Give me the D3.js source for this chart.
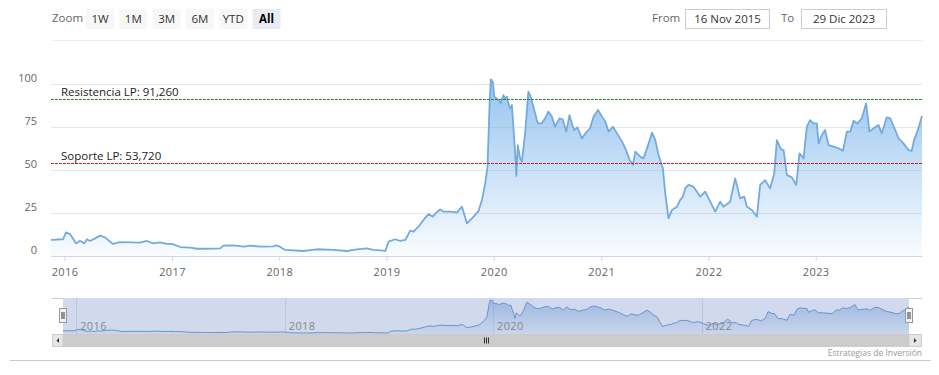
<!DOCTYPE html>
<html>
<head>
<meta charset="utf-8">
<script src="https://cdn.jsdelivr.net/npm/d3@7"></script>
<style>
  body { margin: 0; background: #fff; }
  svg { display: block; font-family: "Open Sans", sans-serif; }
</style>
</head>
<body>
<div id="chart"></div>
<script>
// data
var dates = [
  "2015-11-16","2015-12-27","2016-01-06","2016-01-20","2016-02-09","2016-02-23","2016-03-09","2016-03-17",
  "2016-03-28","2016-04-14","2016-05-01","2016-05-18","2016-06-04","2016-06-14","2016-07-08","2016-09-14",
  "2016-10-07","2016-10-29","2016-11-21","2016-12-14","2017-01-01","2017-01-29","2017-03-04","2017-03-27",
  "2017-04-30","2017-06-14","2017-06-25","2017-07-29","2017-09-01","2017-09-25","2017-10-29","2017-12-12",
  "2017-12-22","2018-01-03","2018-01-21","2018-03-23","2018-05-09","2018-07-04","2018-08-19","2018-09-22",
  "2018-10-27","2018-11-17","2018-12-22","2018-12-28","2019-01-08","2019-01-31","2019-02-17","2019-03-06",
  "2019-03-23","2019-04-03","2019-04-20","2019-05-07","2019-05-24","2019-06-08","2019-06-19","2019-07-03",
  "2019-07-14","2019-08-06","2019-08-29","2019-09-15","2019-10-02","2019-10-19","2019-11-10","2019-11-22",
  "2019-12-03","2019-12-11","2019-12-18","2019-12-22","2019-12-29","2020-01-03","2020-01-17","2020-01-25",
  "2020-02-03","2020-02-09","2020-02-15","2020-02-20","2020-02-26","2020-03-03","2020-03-08","2020-03-14",
  "2020-03-18","2020-03-23","2020-03-31","2020-04-06","2020-04-17","2020-04-28","2020-05-04","2020-05-15",
  "2020-05-27","2020-06-01","2020-06-13","2020-06-24","2020-07-05","2020-07-17","2020-07-28","2020-08-12",
  "2020-08-23","2020-09-04","2020-09-15","2020-09-23","2020-10-01","2020-10-12","2020-10-27","2020-11-13",
  "2020-11-24","2020-12-06","2020-12-21","2021-01-04","2021-01-15","2021-01-26","2021-02-10","2021-02-24",
  "2021-03-13","2021-03-24","2021-04-08","2021-04-19","2021-04-27","2021-05-14","2021-05-25","2021-06-06",
  "2021-06-23","2021-07-04","2021-07-15","2021-07-30","2021-08-07","2021-08-18","2021-08-30","2021-09-16",
  "2021-09-27","2021-10-06","2021-10-14","2021-10-25","2021-11-11","2021-11-23","2021-12-04","2021-12-21",
  "2022-01-07","2022-01-24","2022-02-10","2022-02-21","2022-03-16","2022-04-02","2022-04-19","2022-05-03",
  "2022-05-12","2022-05-29","2022-06-15","2022-06-26","2022-07-13","2022-07-30","2022-08-13","2022-08-22",
  "2022-09-05","2022-09-14","2022-09-25","2022-10-12","2022-10-27","2022-11-07","2022-11-21","2022-12-02",
  "2022-12-13","2022-12-25","2023-01-05","2023-01-11","2023-01-22","2023-02-02","2023-02-14","2023-03-03",
  "2023-03-20","2023-04-04","2023-04-17","2023-04-29","2023-05-10","2023-05-23","2023-06-07","2023-06-22",
  "2023-07-03","2023-07-17","2023-08-03","2023-08-14","2023-08-31","2023-09-12","2023-09-29","2023-10-10",
  "2023-10-27","2023-11-13","2023-11-24","2023-12-02","2023-12-17","2023-12-29"
];
var values = [
  9.3, 9.7, 13.7, 12.7, 7.3, 8.9, 7.3, 9.7,
  8.7, 10.2, 11.8, 10.8, 8.3, 7.0, 8.1, 7.7,
  8.7, 7.3, 7.9, 7.0, 7.0, 5.2, 4.8, 4.2,
  4.2, 4.4, 6.0, 6.2, 5.4, 6.0, 5.4, 5.6,
  6.2, 5.4, 3.5, 2.9, 3.9, 3.5, 2.9, 3.9,
  4.4, 3.5, 3.1, 2.9, 8.3, 9.7, 8.7, 9.3,
  14.7, 14.1, 17.0, 20.9, 24.3, 22.8, 25.1, 27.0,
  25.7, 25.7, 25.3, 28.6, 18.9, 21.8, 26.0, 32.5,
  42.0, 51.8, 88.5, 102.4, 101.0, 92.4, 90.4, 88.5,
  93.3, 91.4, 92.4, 88.5, 85.6, 87.5, 75.0, 59.5,
  46.4, 64.3, 56.6, 54.7, 71.1, 95.3, 93.3, 86.6,
  78.8, 76.9, 76.9, 79.8, 83.7, 80.8, 75.0, 79.8,
  79.2, 72.1, 81.7, 76.9, 73.0, 74.6, 68.2, 72.1,
  74.0, 80.8, 84.6, 80.8, 77.9, 72.1, 75.0, 71.1,
  66.3, 62.4, 55.7, 52.8, 60.5, 57.6, 56.6, 62.4,
  71.5, 67.2, 58.6, 50.8, 36.3, 21.8, 26.7, 28.6,
  32.5, 34.4, 39.2, 41.2, 40.2, 37.3, 34.4, 37.3,
  31.5, 25.7, 31.5, 28.6, 31.5, 45.0, 33.4, 34.4,
  28.6, 26.7, 22.8, 41.2, 44.0, 39.2, 47.9, 67.2,
  61.8, 61.4, 47.0, 45.6, 41.2, 59.5, 56.6, 75.0,
  78.8, 76.9, 76.9, 65.3, 70.1, 73.0, 64.3, 63.4,
  62.4, 61.0, 72.1, 72.1, 78.4, 76.9, 79.8, 88.5,
  72.1, 74.0, 75.9, 71.1, 80.4, 79.8, 73.0, 68.2,
  65.3, 61.4, 61.0, 67.2, 74.0, 81.2
];
var yTicks = [0, 25, 50, 75, 100];
var xTickYears = [2016, 2017, 2018, 2019, 2020, 2021, 2022, 2023];
var navTickYears = [2016, 2018, 2020, 2022];
var zoomButtons = ["1W", "1M", "3M", "6M", "YTD", "All"];
var plotLines = [
  {value: 91.26, label: "Resistencia LP: 91,260", color: "#2b8a2b"},
  {value: 53.72, label: "Soporte LP: 53,720", color: "#cc1f2d"}
];
var fromLabel = "16 Nov 2015", toLabel = "29 Dic 2023";
var credit = "Estrategias de Inversión";

var parse = d3.timeParse("%Y-%m-%d");
var data = dates.map(function(d, i) { return {date: parse(d), value: values[i]}; });

var W = 939, H = 375;
var svg = d3.select("#chart").append("svg").attr("width", W).attr("height", H);
var defs = svg.append("defs");

var x = d3.scaleTime().domain([parse("2015-11-16"), parse("2023-12-29")]).range([51, 922]);
var y = d3.scaleLinear().domain([0, 100]).range([256, 83.5]);

// ---- range selector ----
svg.append("text").attr("x", 52).attr("y", 22).attr("font-size", 11.5).attr("fill", "#666").text("Zoom");
zoomButtons.forEach(function(b, i) {
  var bx = 86 + i * 33.3;
  var sel = b === "All";
  svg.append("rect").attr("x", bx).attr("y", 9).attr("width", 28).attr("height", 20)
     .attr("fill", sel ? "#e6ebf5" : "#f7f7f7");
  svg.append("text").attr("x", bx + 14).attr("y", 22.5).attr("text-anchor", "middle")
     .attr("font-size", 11.5).attr("fill", sel ? "#000" : "#333")
     .attr("font-weight", sel ? "bold" : "normal").text(b);
});

svg.append("text").attr("x", 652).attr("y", 22).attr("font-size", 11.5).attr("fill", "#666").text("From");
svg.append("rect").attr("x", 685.5).attr("y", 9.5).attr("width", 84).attr("height", 19)
   .attr("fill", "#fff").attr("stroke", "#ccc");
svg.append("text").attr("x", 727.5).attr("y", 22.5).attr("text-anchor", "middle").attr("font-size", 11.5)
   .attr("fill", "#333").text(fromLabel);
svg.append("text").attr("x", 781).attr("y", 22).attr("font-size", 11.5).attr("fill", "#666").text("To");
svg.append("rect").attr("x", 801.5).attr("y", 9.5).attr("width", 85).attr("height", 19)
   .attr("fill", "#fff").attr("stroke", "#ccc");
svg.append("text").attr("x", 844).attr("y", 22.5).attr("text-anchor", "middle").attr("font-size", 11.5)
   .attr("fill", "#333").text(toLabel);

svg.append("line").attr("x1", 52).attr("x2", 923).attr("y1", 40.5).attr("y2", 40.5)
   .attr("stroke", "#eeeeee");

// ---- grid + y labels ----
svg.append("g").selectAll("line").data(yTicks).enter().append("line")
   .attr("x1", 51).attr("x2", 922)
   .attr("y1", function(d) { return Math.round(y(d)) + 0.5; })
   .attr("y2", function(d) { return Math.round(y(d)) + 0.5; })
   .attr("stroke", "#e6e6e6");

svg.append("g").selectAll("text").data(yTicks).enter().append("text")
   .attr("x", 37).attr("y", function(d) { return y(d) - 2; })
   .attr("text-anchor", "end").attr("font-size", 11).attr("fill", "#666")
   .text(function(d) { return d; });

// ---- area series ----
var grad = defs.append("linearGradient").attr("id", "areaGrad")
   .attr("gradientUnits", "userSpaceOnUse").attr("x1", 0).attr("x2", 0)
   .attr("y1", y(d3.max(values))).attr("y2", y(0));
grad.append("stop").attr("offset", 0).attr("stop-color", "#7cb5ec").attr("stop-opacity", 0.8);
grad.append("stop").attr("offset", 1).attr("stop-color", "#7cb5ec").attr("stop-opacity", 0.04);

var area = d3.area().x(function(d) { return x(d.date); })
   .y0(y(0)).y1(function(d) { return y(d.value); });
var line = d3.line().x(function(d) { return x(d.date); })
   .y(function(d) { return y(d.value); });

svg.append("path").datum(data).attr("d", area).attr("fill", "url(#areaGrad)");
svg.append("path").datum(data).attr("d", line).attr("fill", "none")
   .attr("stroke", "#74abdf").attr("stroke-width", 1.8).attr("stroke-linejoin", "round");

// ---- plot lines ----
plotLines.forEach(function(p) {
  var py = Math.round(y(p.value)) + 0.5;
  svg.append("line").attr("x1", 51).attr("x2", 922).attr("y1", py).attr("y2", py)
     .attr("stroke", p.color).attr("stroke-width", 1).attr("stroke-dasharray", "3,1");
  svg.append("text").attr("x", 61).attr("y", py - 3.5).attr("font-size", 11.5)
     .attr("fill", "#222").text(p.label);
});

// ---- x axis ----
var xAxis = svg.append("g").attr("transform", "translate(0,256)")
   .call(d3.axisBottom(x)
     .tickValues(xTickYears.map(function(yr) { return new Date(yr, 0, 1); }))
     .tickFormat(d3.timeFormat("%Y")).tickSize(5).tickSizeOuter(0));
xAxis.select(".domain").attr("stroke", "#ccd6eb");
xAxis.selectAll(".tick line").attr("stroke", "#ccd6eb");
xAxis.selectAll(".tick text").attr("font-family", "Open Sans").attr("font-size", 11)
   .attr("fill", "#666").attr("dy", "1.1em").attr("letter-spacing", "0.4px");

// ---- navigator ----
var navTop = 298, navBottom = 334;
var x2 = d3.scaleTime().domain(x.domain()).range([63, 909]);
var y2 = d3.scaleLinear().domain(d3.extent(values)).range([333, 300]);

svg.append("g").selectAll("line").data(navTickYears).enter().append("line")
   .attr("x1", function(d) { return Math.round(x2(new Date(d, 0, 1))) + 0.5; })
   .attr("x2", function(d) { return Math.round(x2(new Date(d, 0, 1))) + 0.5; })
   .attr("y1", navTop).attr("y2", navBottom).attr("stroke", "#e6e6e6");

var grad2 = defs.append("linearGradient").attr("id", "navGrad")
   .attr("gradientUnits", "userSpaceOnUse").attr("x1", 0).attr("x2", 0)
   .attr("y1", 300).attr("y2", 334);
grad2.append("stop").attr("offset", 0).attr("stop-color", "#5b93dc").attr("stop-opacity", 0.45);
grad2.append("stop").attr("offset", 1).attr("stop-color", "#5b93dc").attr("stop-opacity", 0.06);

var area2 = d3.area().x(function(d) { return x2(d.date); })
   .y0(navBottom).y1(function(d) { return y2(d.value); });
var line2 = d3.line().x(function(d) { return x2(d.date); })
   .y(function(d) { return y2(d.value); });
svg.append("path").datum(data).attr("d", area2).attr("fill", "url(#navGrad)");
svg.append("path").datum(data).attr("d", line2).attr("fill", "none")
   .attr("stroke", "#6a9ad8").attr("stroke-width", 1);

// mask over selected range
svg.append("rect").attr("x", 63).attr("y", navTop).attr("width", 846).attr("height", navBottom - navTop)
   .attr("fill", "rgba(102,133,194,0.3)");
svg.append("line").attr("x1", 52).attr("x2", 63).attr("y1", navTop + 0.5).attr("y2", navTop + 0.5)
   .attr("stroke", "#cccccc");
svg.append("line").attr("x1", 909).attr("x2", 922).attr("y1", navTop + 0.5).attr("y2", navTop + 0.5)
   .attr("stroke", "#cccccc");

svg.append("g").selectAll("text").data(navTickYears).enter().append("text")
   .attr("x", function(d) { return x2(new Date(d, 0, 1)) + 4; })
   .attr("y", 330).attr("font-size", 11).attr("fill", "#888").attr("letter-spacing", "0.4px")
   .text(function(d) { return d; });

// handles
[63, 909].forEach(function(hx) {
  svg.append("rect").attr("x", hx - 3.5).attr("y", 308.5).attr("width", 7).attr("height", 14)
     .attr("fill", "#f2f2f2").attr("stroke", "#999");
  svg.append("line").attr("x1", hx - 1).attr("x2", hx - 1).attr("y1", 312).attr("y2", 319).attr("stroke", "#333");
  svg.append("line").attr("x1", hx + 1).attr("x2", hx + 1).attr("y1", 312).attr("y2", 319).attr("stroke", "#333");
});

// ---- scrollbar ----
svg.append("rect").attr("x", 52).attr("y", 334).attr("width", 870).attr("height", 13).attr("fill", "#f2f2f2");
svg.append("rect").attr("x", 63).attr("y", 334).attr("width", 846).attr("height", 13).attr("fill", "#cccccc");
svg.append("rect").attr("x", 52.5).attr("y", 334.5).attr("width", 10.5).attr("height", 12)
   .attr("fill", "#e6e6e6").attr("stroke", "#cccccc");
svg.append("rect").attr("x", 909).attr("y", 334.5).attr("width", 12.5).attr("height", 12)
   .attr("fill", "#e6e6e6").attr("stroke", "#cccccc");
svg.append("path").attr("d", "M59,338 L59,343 L56.5,340.5 Z").attr("fill", "#333");
svg.append("path").attr("d", "M914,338 L914,343 L916.5,340.5 Z").attr("fill", "#333");
[-2, 0, 2].forEach(function(o) {
  svg.append("line").attr("x1", 486.5 + o).attr("x2", 486.5 + o).attr("y1", 337.5).attr("y2", 343.5)
     .attr("stroke", "#333");
});

// bottom rule + credit
svg.append("line").attr("x1", 10).attr("x2", 931).attr("y1", 360.5).attr("y2", 360.5).attr("stroke", "#cccccc");
svg.append("text").attr("x", 922).attr("y", 356).attr("text-anchor", "end").attr("font-size", 8.5)
   .attr("fill", "#999").text(credit);
</script>
</body>
</html>
